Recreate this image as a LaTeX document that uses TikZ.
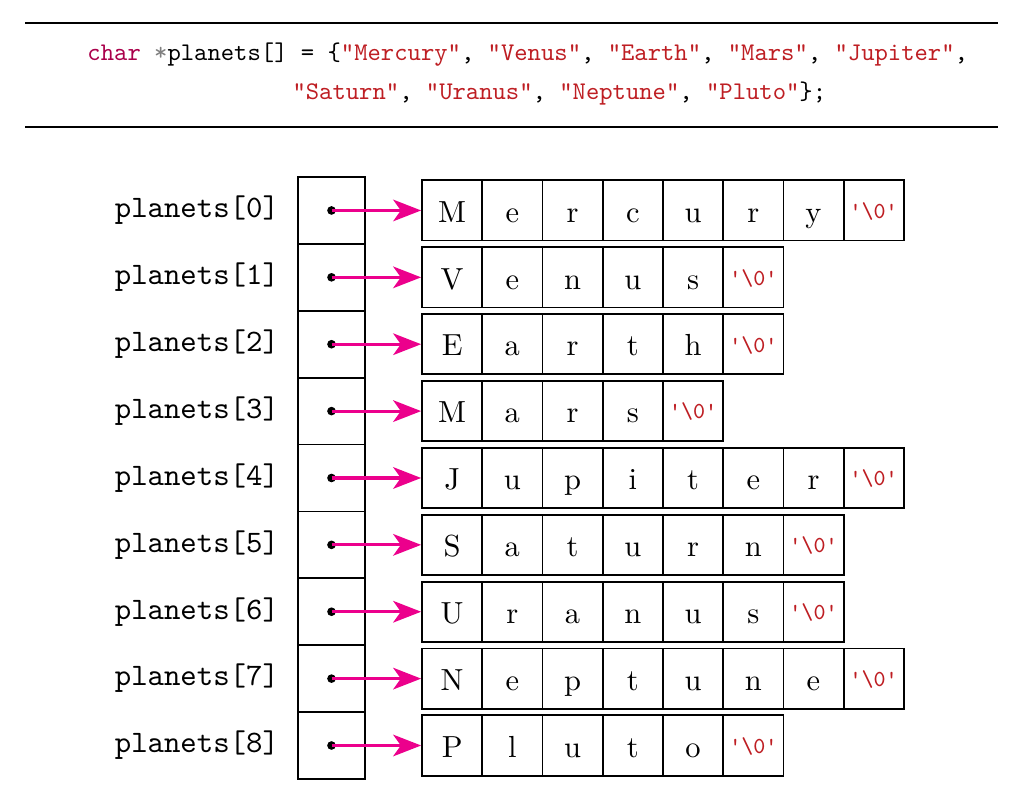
\documentclass[tikz,border=0pt]{standalone}
\usepackage{fontspec}
\usetikzlibrary{arrows.meta}
\newfontfamily\lbltt{lmmono10-regular.otf}
\newfontfamily\cellrm{lmroman10-regular.otf}
\definecolor{kwred}{RGB}{170,0,75}
\definecolor{strred}{RGB}{190,30,35}
\definecolor{ptrpink}{RGB}{236,0,140}

\begin{document}
\begin{tikzpicture}
	[cell/.style={draw,line width=0.7pt,minimum size=0.833cm,inner sep=0pt,font=\cellrm\large,text height=9.2pt,text depth=0pt},
	nul/.style={cell,font=\small\ttfamily,text=strred,text height=6.2pt},
	slot/.style={draw,line width=0.7pt,minimum width=0.927cm,minimum height=0.925cm,inner sep=0pt},
	lbl/.style={font=\lbltt\fontsize{12.3}{14}\selectfont,anchor=east,inner sep=0pt},
	ptr/.style={ptrpink,line width=1.2pt,-{Stealth[length=11pt,width=8.5pt,inset=3pt]}},
	rule/.style={line width=0.8pt}]
		\useasboundingbox (0,0) rectangle (14.094,-11.01);
		% declaration between two rules
		\coordinate (tl) at (0.346,-0.318);
		\coordinate (tr) at (13.803,-0.318);
		\coordinate (bl) at (0.346,-1.757);
		\coordinate (br) at (13.803,-1.757);
		\draw[rule] (tl) -- (tr);
		\draw[rule] (bl) -- (br);
		\node[anchor=base west,inner sep=0pt] (decl1) at (1.203,-0.830)
			{\ttfamily\textcolor{kwred}{char} \textcolor{gray}{*}planets[] = \{\textcolor{strred}{"Mercury"}, \textcolor{strred}{"Venus"}, \textcolor{strred}{"Earth"}, \textcolor{strred}{"Mars"}, \textcolor{strred}{"Jupiter"},};
		\node[anchor=base west,inner sep=0pt] (decl2) at (4.039,-1.383)
			{\ttfamily\textcolor{strred}{"Saturn"}, \textcolor{strred}{"Uranus"}, \textcolor{strred}{"Neptune"}, \textcolor{strred}{"Pluto"}\};};
		% pointer array and the strings
		\foreach \n/\w [count=\i from 0] in {7/{M,e,r,c,u,r,y},5/{V,e,n,u,s},5/{E,a,r,t,h},4/{M,a,r,s},
			7/{J,u,p,i,t,e,r},6/{S,a,t,u,r,n},6/{U,r,a,n,u,s},7/{N,e,p,t,u,n,e},5/{P,l,u,t,o}}{
			\node[slot] (s\i) at (4.585,-2.911-0.925*\i) {};
			\node[lbl] (l\i) at (3.865,-2.911-0.925*\i) {planets[\i]};
			\foreach \c [count=\j] in \w
				\node[cell] (c\i-\j) at (5.4205+0.833*\j,-2.911-0.925*\i) {\c};
			\node[nul] (z\i) at (5.4205+0.833*\n+0.833,-2.911-0.925*\i) {'\textbackslash0'};
			\fill (s\i) circle (1.7pt);
			\draw[ptr] (s\i.center) -- (c\i-1.west);
		}
\end{tikzpicture}
\end{document}
